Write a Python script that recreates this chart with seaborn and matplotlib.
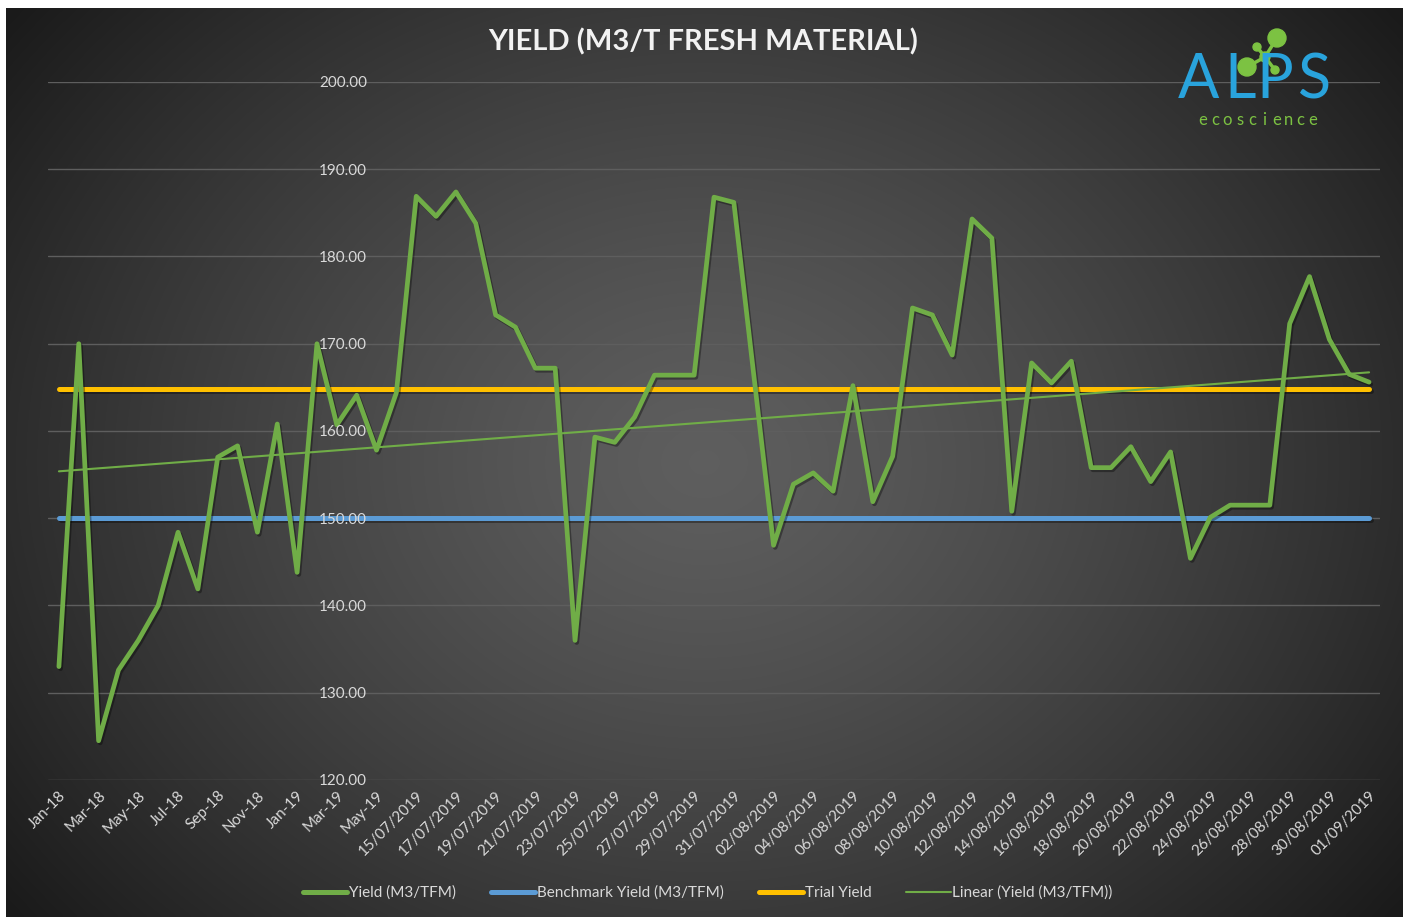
import numpy as np
import pandas as pd
import matplotlib
matplotlib.use("Agg")
import matplotlib.pyplot as plt
import matplotlib.patheffects as pe
from matplotlib.patches import Circle
from matplotlib.lines import Line2D
import seaborn as sns

# category labels: monthly for 2018 - mid 2019, then daily
months = pd.date_range("2018-01-01", "2019-06-01", freq="MS").strftime("%b-%y").tolist()
days = pd.date_range("2019-07-15", "2019-09-01", freq="D").strftime("%d/%m/%Y").tolist()
categories = months + days

yield_vals = [133.0, 170.0, 124.5, 132.6, 136.0, 140.0, 148.4, 141.9, 157.0, 158.3,
              148.4, 160.8, 143.8, 170.0, 160.7, 164.1, 157.8, 164.4, 186.9, 184.6,
              187.4, 183.8, 173.3, 171.9, 167.2, 167.2, 136.0, 159.3, 158.7, 161.6,
              166.4, 166.4, 166.4, 186.8, 186.2, 166.5, 146.9, 153.9, 155.2, 153.1,
              165.2, 151.9, 157.1, 174.1, 173.3, 168.7, 184.3, 182.1, 150.8, 167.8,
              165.5, 168.0, 155.8, 155.8, 158.2, 154.2, 157.6, 145.4, 150.1, 151.5,
              151.5, 151.5, 172.3, 177.7, 170.5, 166.5, 165.6]
benchmark_yield = 150.0
trial_yield = 164.8
y_ticks = [120, 130, 140, 150, 160, 170, 180, 190, 200]

GREEN = "#70ad47"
BLUE = "#5b9bd5"
GOLD = "#ffc000"
TXT = "#d9d9d9"
FONT = ["Lato", "DejaVu Sans"]

sns.set_style("dark")
plt.rcParams["font.family"] = FONT

idx = np.arange(len(categories))
df = pd.DataFrame({
    "idx": idx,
    "yield": yield_vals,
    "bench": np.full(len(idx), benchmark_yield),
    "trial": np.full(len(idx), trial_yield),
})
slope, icpt = np.polyfit(df["idx"], df["yield"], 1)
df["trend"] = icpt + slope * df["idx"]

W, H = 1410, 917
fig = plt.figure(figsize=(W / 100, H / 100), dpi=100, facecolor="white")

# background panel with soft radial gradient
bg = fig.add_axes([0, 0, 1, 1], zorder=0)
bg.set_xlim(0, W)
bg.set_ylim(H, 0)
bg.axis("off")
gx, gy = np.meshgrid(np.linspace(-1, 1, 400), np.linspace(-1, 1, 260))
r = np.clip(np.sqrt((gx * 0.95) ** 2 + (gy * 0.75) ** 2), 0, 1.2)
shade = 0.37 - 0.21 * r ** 1.3
bg.imshow(np.dstack([shade] * 3), extent=[6, 1403, 917, 8], aspect="auto",
          interpolation="bilinear")

ax = fig.add_axes([48 / W, 1 - 780 / H, 1332 / W, 698 / H], zorder=1)
ax.set_facecolor("none")

# gridlines drawn by hand so tick labels can sit above the series
for v in y_ticks:
    ax.axhline(v, color="#5e5e5e", linewidth=1.0, zorder=0.5)

shadow = [pe.SimpleLineShadow(offset=(1.2, -1.5), alpha=0.35, shadow_color="black"),
          pe.Normal()]

sns.lineplot(data=df, x="idx", y="bench", ax=ax, color=BLUE, linewidth=3.6,
             solid_capstyle="round", path_effects=shadow)
sns.lineplot(data=df, x="idx", y="trial", ax=ax, color=GOLD, linewidth=3.6,
             solid_capstyle="round", path_effects=shadow)
sns.lineplot(data=df, x="idx", y="yield", ax=ax, color=GREEN, linewidth=3.4,
             path_effects=shadow)
sns.lineplot(data=df, x="idx", y="trend", ax=ax, color=GREEN, linewidth=1.5)

ax.set_xlim(-0.55, len(idx) - 0.45)
ax.set_ylim(120, 200)
ax.set_xlabel("")
ax.set_ylabel("")
for s in ax.spines.values():
    s.set_visible(False)
ax.grid(False)
ax.set_axisbelow(False)

ax.set_yticks(y_ticks)
ax.set_yticklabels([f"{v:.2f}" for v in y_ticks])
ax.spines["left"].set_position(("data", 15.6))
ax.tick_params(axis="y", length=0, pad=1, labelsize=11, labelcolor=TXT)

ax.set_xticks(idx[::2])
ax.set_xticklabels(categories[::2], rotation=45, ha="right", rotation_mode="anchor")
ax.tick_params(axis="x", length=0, pad=6, labelsize=11, labelcolor=TXT)

handles = [Line2D([], [], color=GREEN, lw=3.6),
           Line2D([], [], color=BLUE, lw=3.6),
           Line2D([], [], color=GOLD, lw=3.6),
           Line2D([], [], color=GREEN, lw=1.5)]
labels = ["Yield (M3/TFM)", "Benchmark Yield (M3/TFM)", "Trial Yield",
          "Linear (Yield (M3/TFM))"]
fig.legend(handles, labels, loc="center", bbox_to_anchor=(0.502, 1 - 893 / H), ncol=4,
           frameon=False, fontsize=11, labelcolor=TXT, handlelength=2.9,
           handletextpad=0.1, columnspacing=2.3)

# title and logo on a pixel-space overlay
top = fig.add_axes([0, 0, 1, 1], zorder=3)
top.set_xlim(0, W)
top.set_ylim(H, 0)
top.axis("off")
top.text(703, 42, "YIELD (M3/T FRESH MATERIAL)", ha="center", va="center",
         fontsize=21, fontweight="bold", color="#f2f2f2")

LOGO_BLUE = "#29a3dc"
LOGO_GREEN = "#7cc242"
for ch, cx in zip("ALPS", [1199, 1240, 1275, 1315]):
    top.text(cx, 81, ch, ha="center", va="center", fontsize=44,
             fontweight="normal", color=LOGO_BLUE)
nodes = [(1277, 38, 9), (1265, 57, 5), (1247, 67, 9), (1257, 47, 4), (1275, 70, 4)]
for (x0, y0, _), (x1, y1, _) in [(nodes[1], nodes[0]), (nodes[1], nodes[2]),
                                 (nodes[1], nodes[3]), (nodes[1], nodes[4])]:
    top.plot([x0, x1], [y0, y1], color=LOGO_GREEN, lw=2.5)
for x0, y0, rr in nodes:
    top.add_patch(Circle((x0, y0), rr, color=LOGO_GREEN))
for i, ch in enumerate("ecoscience"):
    top.text(1203 + i * 12.2, 120, ch, ha="center", va="center", fontsize=12,
             color=LOGO_GREEN)

fig.savefig("out.png", dpi=100, facecolor="white")
